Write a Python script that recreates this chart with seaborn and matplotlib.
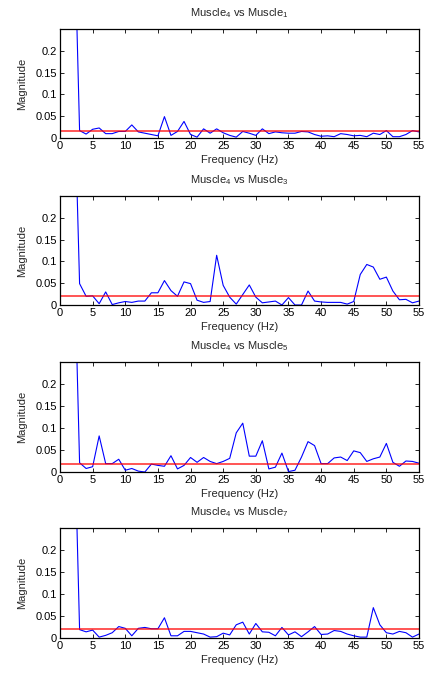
import numpy as np
import pandas as pd
import matplotlib
matplotlib.use("Agg")
import matplotlib.pyplot as plt
import seaborn as sns

# Coherence magnitude spectra between muscle pairs, 0-55 Hz in 1 Hz steps
freq = list(range(0, 56))

m4_vs_m1 = [0.95, 0.80, 0.60,
            0.017, 0.009, 0.020, 0.023, 0.010, 0.010, 0.015, 0.015, 0.030, 0.014,
            0.011, 0.008, 0.005, 0.049, 0.006, 0.015, 0.038, 0.008, 0.002, 0.021,
            0.011, 0.021, 0.012, 0.006, 0.002, 0.015, 0.011, 0.006, 0.021, 0.010,
            0.014, 0.012, 0.011, 0.011, 0.015, 0.014, 0.008, 0.004, 0.005, 0.003,
            0.010, 0.008, 0.005, 0.006, 0.003, 0.011, 0.008, 0.017, 0.003, 0.003,
            0.008, 0.017, 0.014]

m4_vs_m3 = [0.95, 0.80, 0.60,
            0.049, 0.020, 0.021, 0.003, 0.030, 0.001, 0.005, 0.008, 0.006, 0.009,
            0.009, 0.028, 0.028, 0.056, 0.033, 0.020, 0.053, 0.049, 0.011, 0.006,
            0.008, 0.114, 0.045, 0.018, 0.002, 0.024, 0.046, 0.018, 0.005, 0.007,
            0.009, 0.000, 0.017, 0.000, 0.000, 0.032, 0.009, 0.007, 0.006, 0.006,
            0.006, 0.002, 0.008, 0.070, 0.093, 0.087, 0.059, 0.064, 0.032, 0.012,
            0.013, 0.005, 0.009]

m4_vs_m5 = [0.95, 0.80, 0.60,
            0.021, 0.008, 0.012, 0.082, 0.019, 0.019, 0.029, 0.004, 0.008, 0.002,
            0.000, 0.018, 0.015, 0.013, 0.037, 0.007, 0.015, 0.033, 0.022, 0.033,
            0.024, 0.019, 0.024, 0.031, 0.089, 0.111, 0.036, 0.036, 0.071, 0.007,
            0.011, 0.043, 0.001, 0.004, 0.034, 0.069, 0.060, 0.019, 0.019, 0.032,
            0.034, 0.026, 0.048, 0.044, 0.024, 0.030, 0.034, 0.065, 0.022, 0.013,
            0.025, 0.024, 0.020]

m4_vs_m7 = [0.95, 0.80, 0.60,
            0.019, 0.014, 0.018, 0.002, 0.006, 0.012, 0.026, 0.022, 0.005, 0.022,
            0.024, 0.021, 0.021, 0.046, 0.005, 0.005, 0.015, 0.015, 0.012, 0.009,
            0.002, 0.003, 0.011, 0.007, 0.030, 0.036, 0.009, 0.033, 0.014, 0.013,
            0.005, 0.024, 0.007, 0.014, 0.003, 0.014, 0.026, 0.008, 0.009, 0.017,
            0.015, 0.009, 0.005, 0.002, 0.002, 0.069, 0.030, 0.012, 0.009, 0.015,
            0.012, 0.002, 0.009]

# Significance thresholds for each pair
thresholds = [0.017, 0.020, 0.018, 0.020]

titles = ["Muscle$_4$ vs Muscle$_1$", "Muscle$_4$ vs Muscle$_3$",
          "Muscle$_4$ vs Muscle$_5$", "Muscle$_4$ vs Muscle$_7$"]
series = [m4_vs_m1, m4_vs_m3, m4_vs_m5, m4_vs_m7]

x_ticks = list(range(0, 56, 5))
y_ticks = [0, 0.05, 0.1, 0.15, 0.2]
y_tick_labels = ["0", "0.05", "0.1", "0.15", "0.2"]

sns.set_style("ticks")
plt.rcParams["font.family"] = ["Liberation Sans", "DejaVu Sans"]
plt.rcParams["mathtext.default"] = "regular"
plt.rcParams["font.size"] = 8

fig = plt.figure(figsize=(4.25, 6.73), dpi=100)

W, H = 425, 673
left, right = 60, 419
panels = [(29, 138), (196, 305), (362, 472), (528, 638)]

for (top, bottom), title, vals, thr in zip(panels, titles, series, thresholds):
    ax = fig.add_axes([left / W, 1 - bottom / H, (right - left) / W, (bottom - top) / H])
    df = pd.DataFrame({"Frequency": freq, "Magnitude": vals})
    sns.lineplot(data=df, x="Frequency", y="Magnitude", ax=ax,
                 color="#0000ff", linewidth=0.8)
    ax.axhline(thr, color="#ff0000", linewidth=1.1, alpha=0.85)
    ax.set_xlim(0, 55)
    ax.set_ylim(0, 0.25)
    ax.set_xticks(x_ticks)
    ax.set_yticks(y_ticks)
    ax.set_yticklabels(y_tick_labels)
    ax.tick_params(direction="in", length=3, width=0.6, top=True, right=True,
                   labelsize=8, pad=2, colors="black")
    for sp in ax.spines.values():
        sp.set_visible(True)
        sp.set_color("black")
        sp.set_linewidth(0.9)
    ax.set_xlabel("Frequency (Hz)", fontsize=8, labelpad=3)
    ax.set_ylabel("Magnitude", fontsize=8, labelpad=6)
    ax.set_title(title, fontsize=8, pad=9)

fig.savefig("out.png", dpi=100, facecolor="white")
